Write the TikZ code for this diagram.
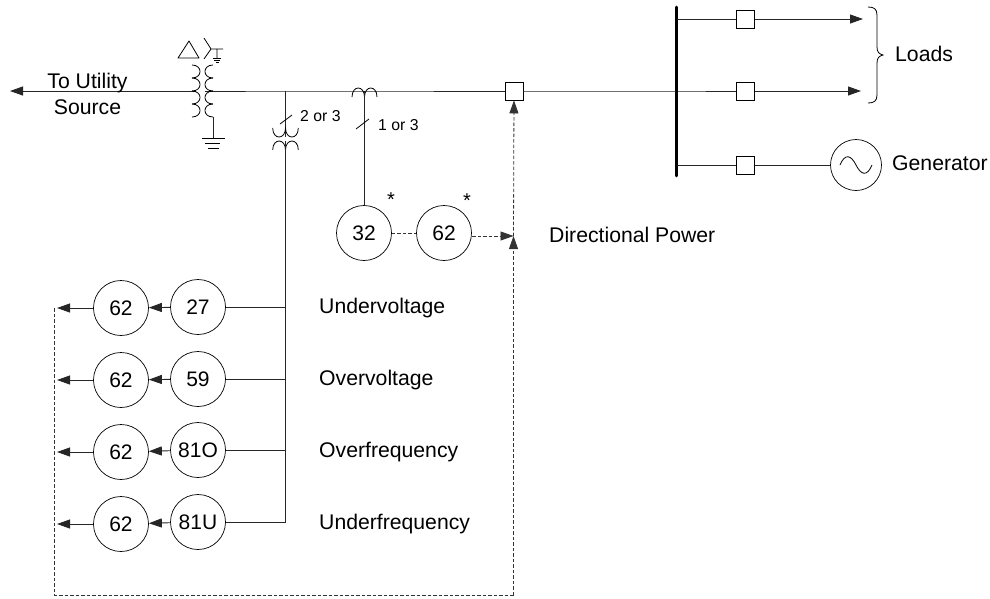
\documentclass[tikz,border=0pt]{standalone}
\usepackage{fontspec}
\setmainfont{Liberation Sans}
\usetikzlibrary{arrows.meta}
\tikzset{
  relay/.style={draw,circle,minimum size=55pt,inner sep=0pt,line width=0.7pt,font=\fontsize{21}{23}\selectfont},
  brk/.style={draw,rectangle,minimum size=18pt,inner sep=0pt,line width=0.8pt,fill=white},
  wire/.style={line width=0.9pt,draw=black!85},
  sig/.style={line width=0.8pt,dash pattern=on 3.5pt off 2pt,draw=black!80},
  tipw/.style={-{Triangle[length=13pt,width=9pt]}},
  lab/.style={anchor=base west,inner sep=0pt,font=\fontsize{21.2}{23}\selectfont},
  lbc/.style={anchor=base,inner sep=0pt,font=\fontsize{21.2}{23}\selectfont},
  small/.style={anchor=base west,inner sep=0pt,font=\fontsize{15.8}{18}\selectfont},
  star/.style={inner sep=0pt,font=\fontsize{20}{22}\selectfont},
  sym/.style={line width=0.8pt}
}
\begin{document}
\begin{tikzpicture}[x=1pt,y=-1pt]
\useasboundingbox (0,0) rectangle (990,598);
% nodes
\node[brk] (b0) at (514,91) {};
\node[brk] (b1) at (745.5,19) {};
\node[brk] (b2) at (745.5,91) {};
\node[brk] (b3) at (745.5,165) {};
\node[relay,minimum size=51pt] (gen) at (856,165) {};
\node[relay] (r32) at (364,233) {32};
\node[relay] (r62) at (444,233) {62};
\node[relay] (a1) at (121,308) {62};
\node[relay] (a2) at (121,380) {62};
\node[relay] (a3) at (121,452) {62};
\node[relay] (a4) at (121,524) {62};
\node[relay] (c1) at (198,307) {27};
\node[relay] (c2) at (198,379) {59};
\node[relay] (c3) at (198,450) {81O};
\node[relay] (c4) at (198,522) {81U};
\coordinate (src) at (10,91);
\coordinate (xl) at (195,91);
\coordinate (xr) at (205,91);
\coordinate (vt) at (285.5,91);
\coordinate (vttop) at (285.5,137);
\coordinate (vtbot) at (285.5,141);
\coordinate (ct) at (364,91);
\coordinate (bus) at (676.5,91);
\coordinate (bust) at (676.5,7);
\coordinate (busb) at (676.5,176);
\coordinate (l1s) at (676.5,19);
\coordinate (l3s) at (676.5,165);
\coordinate (l1e) at (863,19);
\coordinate (l2e) at (861,91);
\coordinate (j) at (513.5,236);
\coordinate (sl) at (54.7,308);
\coordinate (slb) at (54.7,595);
\coordinate (srb) at (513.5,595);
\coordinate (t1) at (57,308);
\coordinate (t2) at (57,380);
\coordinate (t3) at (57,452);
\coordinate (t4) at (57,524);
\coordinate (s1) at (285.5,307);
\coordinate (s2) at (285.5,379);
\coordinate (s3) at (285.5,450);
\coordinate (s4) at (285.5,522);
% main wires
\draw[wire,tipw] (xl) -- (src);
\draw[wire] (xr) -- (vt) -- (ct) -- (b0);
\draw[wire] (b0) -- (bus) -- (b2);
\draw[wire,tipw] (b2) -- (l2e);
\draw[line width=2.8pt,line cap=round] (bust) -- (busb);
\draw[wire] (l1s) -- (b1);
\draw[wire,tipw] (b1) -- (l1e);
\draw[wire] (l3s) -- (b3) -- (gen);
% generator sine
\draw[sym] (840,165) .. controls (845,153) and (851,155) .. (856,165) .. controls (861,175) and (867,177) .. (872,165);
% brace
\draw[sym] (868,7) .. controls (874,7) and (877,9) .. (877,15) -- (877,47) .. controls (877,52) and (879,54) .. (883,55) .. controls (879,56) and (877,58) .. (877,63) -- (877,95) .. controls (877,101) and (874,103) .. (868,103);
% step-up transformer
\foreach \y in {65,78,91,104}{
  \draw[sym] (192,\y) .. controls (202.7,\y) and (202.7,\y+13) .. (192,\y+13);
  \draw[sym] (213,\y) .. controls (202.3,\y) and (202.3,\y+13) .. (213,\y+13);
}
\draw[wire] (213,117) -- (213,138);
\draw[sym,line width=1pt] (202,138) -- (225,138) (205,143) -- (220,143) (208,148) -- (219,148);
\draw[sym,line join=round] (178,58) -- (199,58) -- (189,41) -- cycle;
\draw[sym] (204,38) -- (211,49) -- (204,59) (211,49) -- (223,49) (217,49) -- (217,58);
\draw[sym] (213,58) -- (221,58) (214,60) -- (220,60) (215.5,62) -- (218.5,62);
% VT
\draw[wire] (vt) -- (vttop);
\draw[sym] (272.7,128) .. controls (272.7,140) and (285.5,140) .. (285.5,128) .. controls (285.5,140) and (298.3,140) .. (298.3,128);
\draw[sym] (272.7,150) .. controls (272.7,138) and (285.5,138) .. (285.5,150) .. controls (285.5,138) and (298.3,138) .. (298.3,150);
\draw[wire] (vtbot) -- (s1) -- (s2) -- (s3) -- (s4);
\draw[sym] (280,124) -- (292,115);
\node[small] (lvt) at (300,121) {2 or 3};
% CT
\draw[sym] (352,97) .. controls (352,85) and (364.5,85) .. (364.5,97) .. controls (364.5,85) and (377,85) .. (377,97);
\draw[wire] (ct) -- (r32);
\draw[sym] (356,129) -- (369,119);
\node[small] (lct) at (378,130) {1 or 3};
% relays
\draw[sig] (r32) -- (r62);
\draw[sig,tipw] (472,236) -- (j);
\draw[sig,tipw] (j) -- (b0);
\draw[sig,tipw] (srb) -- (j);
\draw[sig] (sl) -- (slb) -- (srb);
\foreach \i in {1,2,3,4}{
  \draw[wire] (c\i) -- (s\i);
  \draw[wire,tipw] (c\i) -- (a\i);
  \draw[wire,tipw] (a\i) -- (t\i);
}
\node[star] (st1) at (391,200) {*};
\node[star] (st2) at (467,201) {*};
% labels
\node[lab] (lu) at (319,313.3) {Undervoltage};
\node[lab] (lo) at (319,385.7) {Overvoltage};
\node[lab] (lf) at (319,457) {Overfrequency};
\node[lab] (lq) at (319,529) {Underfrequency};
\node[lab] (ld) at (549,242) {Directional Power};
\node[lab] (ll) at (895,61.7) {Loads};
\node[lab] (lg) at (892,170) {Generator};
\node[lbc] (ls1) at (87.5,88) {To Utility};
\node[lbc] (ls2) at (87.5,114) {Source};
\end{tikzpicture}
\end{document}
